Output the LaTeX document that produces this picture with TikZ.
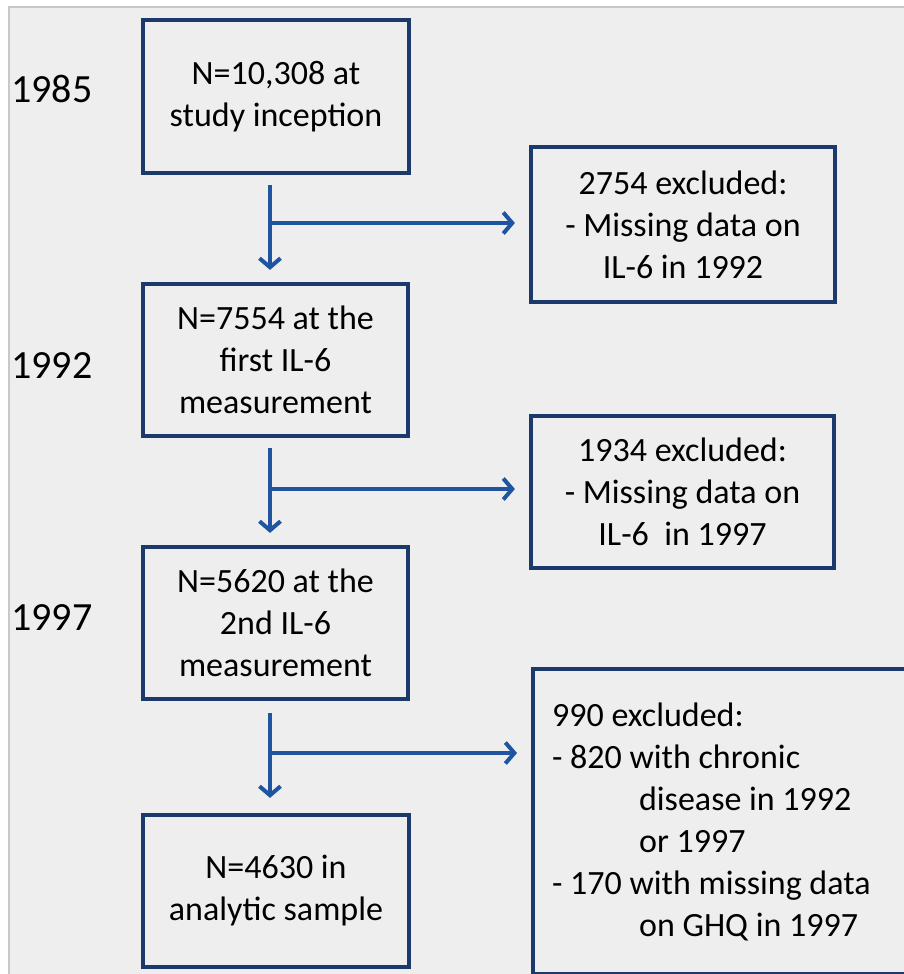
\documentclass[tikz,border=0pt]{standalone}
\usepackage{fontspec}
\setmainfont{Carlito}
\usetikzlibrary{arrows.meta}
\definecolor{panel}{HTML}{EEEEEE}
\definecolor{panelline}{HTML}{C8C8C8}
\definecolor{navy}{HTML}{1B3A6B}
\definecolor{arrblue}{HTML}{1F55A0}
\tikzset{
  box/.style={draw=navy, line width=4.2pt, rectangle, inner sep=0pt,
    align=center, font=\fontsize{34}{42}\selectfont},
  yearlbl/.style={anchor=base west, inner sep=0pt, font=\fontsize{40}{48}\selectfont},
  arr/.style={draw=arrblue, line width=4pt,
    -{Straight Barb[length=9pt,width=21pt,line width=4pt]}}
}
\begin{document}
\begin{tikzpicture}[x=1pt,y=-1pt]
\useasboundingbox (0,0) rectangle (904,974);
\fill[white] (0,0) rectangle (904,974);
\fill[panel] (9,7) rectangle (910,980);
\draw[panelline, line width=1.2pt] (9,980) -- (9,7) -- (910,7);

% main boxes
\node[box, minimum width=266pt, minimum height=153pt] (b1) at (276,96.5)
  {N=10,308 at\\study inception};
\node[box, minimum width=265pt, minimum height=152pt] (b2) at (275.5,360)
  {N=7554 at the\\first IL-6\\measurement};
\node[box, minimum width=265pt, minimum height=152pt] (b3) at (275.5,623)
  {N=5620 at the\\2nd IL-6\\measurement};
\node[box, minimum width=266pt, minimum height=152pt] (b4) at (276,891)
  {N=4630 in\\analytic sample};

% exclusion boxes
\node[box, minimum width=304pt, minimum height=155pt] (bA) at (683,224.5)
  {2754 excluded:\\- Missing data on\\IL-6 in 1992};
\node[box, minimum width=303pt, minimum height=152pt] (bB) at (682.5,492)
  {1934 excluded:\\- Missing data on\\IL-6~~in 1997};
\node[box, anchor=north west, minimum width=400pt, minimum height=305pt,
  text width=362pt, align=flush left, inner xsep=19pt] (bC) at (531,667)
  {990 excluded:\\
   - 820 with chronic\\
   \hspace*{87pt}disease in 1992\\
   \hspace*{87pt}or 1997\\
   - 170 with missing data\\
   \hspace*{87pt}on GHQ in 1997};

% year labels
\node[yearlbl] (y1) at (11,102) {1985};
\node[yearlbl] (y2) at (11,378) {1992};
\node[yearlbl] (y3) at (11,630) {1997};

% connectors
\coordinate (s1) at (270,185);
\coordinate (j1) at (270,223);
\coordinate (s2) at (270,448);
\coordinate (j2) at (270,489);
\coordinate (s3) at (270,713);
\coordinate (j3) at (270,753);

\draw[arr, shorten >=12pt] (s1) -- (s1 |- b2.north);
\draw[arr, shorten >=14pt] (j1) -- (j1 -| bA.west);

\draw[arr, shorten >=12pt] (s2) -- (s2 |- b3.north);
\draw[arr, shorten >=14pt] (j2) -- (j2 -| bB.west);

\draw[arr, shorten >=15pt] (s3) -- (s3 |- b4.north);
\draw[arr, shorten >=14pt] (j3) -- (j3 -| bC.west);
\end{tikzpicture}
\end{document}
